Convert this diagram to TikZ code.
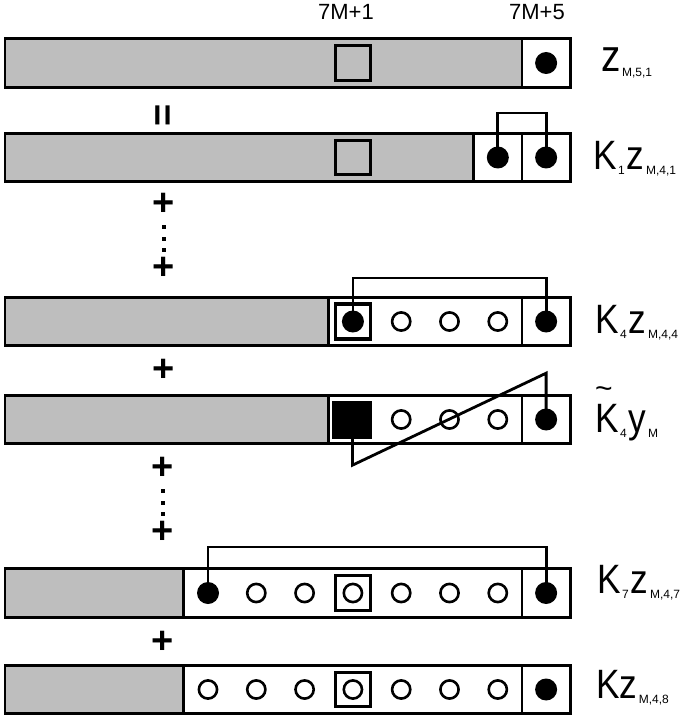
\documentclass[tikz,border=0pt]{standalone}
\usepackage{fontspec}
\setmainfont{Liberation Sans}
\newfontfamily\lblfont[FakeStretch=0.86]{Liberation Sans}
\usepackage{tikz}
\usetikzlibrary{positioning}

\definecolor{bargray}{RGB}{190,190,190}

% lowered index of the row labels
\newcommand{\lsub}[1]{\kern1.5pt\raisebox{-5pt}{\rmfamily\fontsize{12}{12}\selectfont #1}\kern2pt}
% loose tilde over a letter
\newcommand{\ltilde}[1]{\makebox[0pt][l]{\kern0pt\raisebox{34pt}{\rmfamily\fontsize{30}{30}\selectfont\textasciitilde}}#1}

\begin{document}
\begin{tikzpicture}[x=1pt, y=-1pt,
  greybar/.style={rectangle, draw, fill=bargray, line width=2.8pt, minimum height=48.5pt,
                  inner sep=0pt, outer sep=0pt, anchor=west},
  cellbox/.style={rectangle, draw, fill=white, line width=2.8pt, minimum height=48.5pt,
                  inner sep=0pt, outer sep=0pt},
  fulldot/.style={circle, fill=black, minimum size=22pt, inner sep=0pt},
  opendot/.style={circle, draw, line width=2.6pt, minimum size=18.2pt, inner sep=0pt},
  markbox/.style={rectangle, draw, line width=3.3pt, minimum size=34.5pt, inner sep=0pt},
  link/.style={line width=2.8pt},
  rowlabel/.style={anchor=base west, inner sep=0pt, font=\lblfont\fontsize{41}{41}\selectfont},
  sign/.style={inner sep=0pt, font=\bfseries\fontsize{38}{38}\selectfont},
  colhead/.style={anchor=base, inner sep=0pt, font=\fontsize{22}{22}\selectfont},
]
  \useasboundingbox (0,0) rectangle (691,719);

  % z_{M,5,1}
  \node[greybar, minimum width=516.95pt] (g1) at (5,63) {};
  \node[cellbox, minimum width=48.3pt, right=0pt of g1] (w1) {};
  \node[markbox] (m1) at (352.9,63) {};
  \node[fulldot] (r1c7) at (546.1,63) {};
  \node[colhead] (h1) at (346,20) {7M+1};
  \node[colhead] (h2) at (537,20) {7M+5};
  \node[rowlabel, font=\lblfont\fontsize{45}{45}\selectfont] (lab1) at (601,72) {z\lsub{M,5,1}};

  \node[sign, rotate=90] (eq) at (166,115) {=};

  % K_1 z_{M,4,1}
  \node[greybar, minimum width=468.65pt] (g2) at (5,157.5) {};
  \node[cellbox, minimum width=48.3pt, right=0pt of g2] (w2a) {};
  \node[cellbox, minimum width=48.3pt, right=0pt of w2a] (w2b) {};
  \node[markbox] (m2) at (352.9,157.5) {};
  \node[fulldot] (r2c6) at (497.8,157.5) {};
  \node[fulldot] (r2c7) at (546.1,157.5) {};
  \draw[link] (r2c6.center) -- ++(0,-44.5) -| (r2c7.center);
  \node[rowlabel] (lab2) at (593,170) {K\lsub{1}z\lsub{M,4,1}};

  \node[sign] (p1) at (164,204) {+};
  \foreach \yy in {227,239,250}
    \fill (162.3,\yy-1.8) rectangle +(3.6,3.6);
  \node[sign] (p2) at (164,268) {+};

  % K_4 z_{M,4,4}
  \node[greybar, minimum width=323.75pt] (g3) at (5,321.5) {};
  \node[cellbox, minimum width=193.2pt, right=0pt of g3] (w3a) {};
  \node[cellbox, minimum width=48.3pt, right=0pt of w3a] (w3b) {};
  \node[markbox, minimum size=35pt] (m3) at (352.9,321.5) {};
  \node[fulldot] (r3c3) at (352.9,321.5) {};
  \foreach \k in {4,5,6}
    \node[opendot] (r3c\k) at ({208+48.3*\k},321.5) {};
  \node[fulldot] (r3c7) at (546.1,321.5) {};
  \draw[link] (r3c3.center) -- ++(0,-43.5) -| (r3c7.center);
  \node[rowlabel] (lab3) at (595,333) {K\lsub{4}z\lsub{M,4,4}};

  \node[sign] (p3) at (164,370) {+};

  % \tilde K_4 y_M
  \node[greybar, minimum width=323.75pt] (g4) at (5,419.5) {};
  \node[cellbox, minimum width=193.2pt, right=0pt of g4] (w4a) {};
  \node[cellbox, minimum width=48.3pt, right=0pt of w4a] (w4b) {};
  \node[rectangle, fill=black, minimum width=40pt, minimum height=38pt, inner sep=0pt] (r4c3) at (352.4,420) {};
  \foreach \k in {4,5,6}
    \node[opendot] (r4c\k) at ({208+48.3*\k},419.5) {};
  \node[fulldot] (r4c7) at (546.1,419.5) {};
  \draw[link] (r4c3.south) -- ++(0,26) -- ++(193.7,-92) -- (r4c7.center);
  \node[rowlabel] (lab4) at (595,432) {\ltilde{K}\lsub{4}y\lsub{M}};

  \node[sign] (p4) at (163,468) {+};
  \foreach \yy in {491,503,514}
    \fill (161.3,\yy-1.8) rectangle +(3.6,3.6);
  \node[sign] (p5) at (163,532) {+};

  % K_7 z_{M,4,7}
  \node[greybar, minimum width=178.85pt] (g5) at (5,593) {};
  \node[cellbox, minimum width=338.1pt, right=0pt of g5] (w5a) {};
  \node[cellbox, minimum width=48.3pt, right=0pt of w5a] (w5b) {};
  \node[markbox] (m5) at (352.9,593) {};
  \node[fulldot] (r5c0) at (208,593) {};
  \foreach \k in {1,...,6}
    \node[opendot] (r5c\k) at ({208+48.3*\k},593) {};
  \node[fulldot] (r5c7) at (546.1,593) {};
  \draw[link] (r5c0.center) -- ++(0,-46) -| (r5c7.center);
  \node[rowlabel] (lab5) at (597,593) {K\lsub{7}z\lsub{M,4,7}};

  \node[sign] (p6) at (163,642) {+};

  % K z_{M,4,8}
  \node[greybar, minimum width=178.85pt] (g6) at (5,689.5) {};
  \node[cellbox, minimum width=338.1pt, right=0pt of g6] (w6a) {};
  \node[cellbox, minimum width=48.3pt, right=0pt of w6a] (w6b) {};
  \node[markbox] (m6) at (352.9,689.5) {};
  \foreach \k in {0,...,6}
    \node[opendot] (r6c\k) at ({208+48.3*\k},689.5) {};
  \node[fulldot] (r6c7) at (546.1,689.5) {};
  \node[rowlabel] (lab6) at (596,698) {Kz\lsub{M,4,8}};
\end{tikzpicture}
\end{document}
